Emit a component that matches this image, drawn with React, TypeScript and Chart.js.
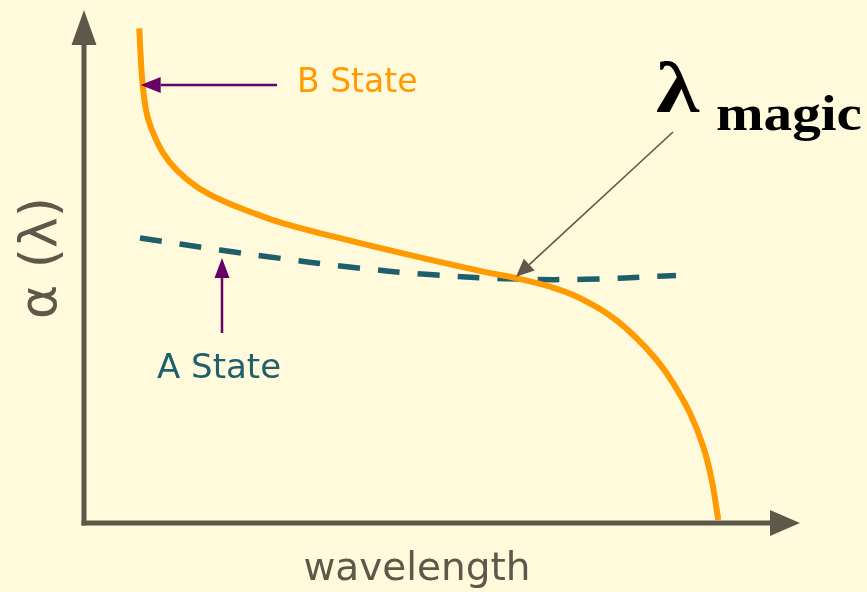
import { useEffect, useRef } from "react";
import { Chart, registerables } from "chart.js";
Chart.register(...registerables);

// Curve data (arbitrary units: wavelength 0–100, polarizability 0–100)
const bStateX = [7.72, 7.92, 8.2, 8.76, 9.68, 11.08, 12.95, 15.74, 18.99, 23.65, 27.83, 37.15, 46.47, 55.77, 60.43, 65.08, 68.34, 73.0, 76.72, 79.99, 82.3, 84.64, 86.49, 87.67, 88.59];
const bStateY = [96.43, 90.9, 85.38, 79.86, 75.96, 72.07, 68.81, 65.56, 63.06, 60.43, 58.42, 55.03, 51.91, 48.99, 47.7, 46.06, 44.44, 40.88, 36.65, 31.77, 27.23, 21.38, 14.87, 8.38, 0.58];
const aStateX = [7.82, 18.99, 25.7, 36.73, 47.77, 58.94, 69.97, 81.15, 82.68];
const aStateY = [55.56, 53.22, 51.91, 49.96, 48.48, 47.62, 47.5, 48.15, 48.25];
const magicX = 60.34;
const magicY = 47.8;

const labelB = "B State";
const labelA = "A State";
const labelLambda = "λ";
const labelMagic = "magic";
const xTitle = "wavelength";
const yTitle = "α (λ)";

const BG = "#FFFADC";
const AXIS = "#5E584A";
const ORANGE = "#FF9A00";
const TEAL = "#1F5F6B";
const PURPLE = "#660066";

function arrow(ctx: CanvasRenderingContext2D, x1: number, y1: number, x2: number, y2: number, color: string, lw: number, headLen: number, headHalf: number) {
  const ang = Math.atan2(y2 - y1, x2 - x1);
  const bx = x2 - Math.cos(ang) * headLen;
  const by = y2 - Math.sin(ang) * headLen;
  ctx.save();
  ctx.strokeStyle = color;
  ctx.fillStyle = color;
  ctx.lineWidth = lw;
  ctx.setLineDash([]);
  ctx.beginPath();
  ctx.moveTo(x1, y1);
  ctx.lineTo(bx, by);
  ctx.stroke();
  ctx.beginPath();
  ctx.moveTo(x2, y2);
  ctx.lineTo(bx + Math.cos(ang + Math.PI / 2) * headHalf, by + Math.sin(ang + Math.PI / 2) * headHalf);
  ctx.lineTo(bx - Math.cos(ang + Math.PI / 2) * headHalf, by - Math.sin(ang + Math.PI / 2) * headHalf);
  ctx.closePath();
  ctx.fill();
  ctx.restore();
}

const decorPlugin = {
  id: "decor",
  beforeDraw(chart: any) {
    const ctx = chart.ctx as CanvasRenderingContext2D;
    ctx.save();
    ctx.fillStyle = BG;
    ctx.fillRect(0, 0, chart.width, chart.height);
    ctx.restore();
  },
  beforeDatasetsDraw(chart: any) {
    const ctx = chart.ctx as CanvasRenderingContext2D;
    const { left, right, top, bottom } = chart.chartArea;
    // axes with arrows
    arrow(ctx, left, bottom + 2.5, left, top, AXIS, 5, 35, 12.5);
    arrow(ctx, left - 2.5, bottom, right, bottom, AXIS, 5, 30, 13);
    ctx.save();
    ctx.fillStyle = AXIS;
    ctx.font = "39px 'DejaVu Sans'";
    ctx.textAlign = "center";
    ctx.textBaseline = "alphabetic";
    ctx.fillText(xTitle, 417, 580);
    ctx.translate(42, 258);
    ctx.rotate(-Math.PI / 2);
    ctx.font = "52px 'DejaVu Sans'";
    ctx.textBaseline = "middle";
    ctx.fillText(yTitle, 0, 0);
    ctx.restore();
  },
  afterDatasetsDraw(chart: any) {
    const ctx = chart.ctx as CanvasRenderingContext2D;
    const xs = chart.scales.x;
    const ys = chart.scales.y;
    // B State annotation
    const bx = xs.getPixelForValue(bStateX[2]);
    const by = ys.getPixelForValue(bStateY[2]);
    arrow(ctx, 277, by, bx - 2, by, PURPLE, 2.5, 20, 8);
    // A State annotation
    arrow(ctx, 222, 333, 222, 258, PURPLE, 2.5, 20, 7.5);
    // lambda magic annotation
    const mx = xs.getPixelForValue(magicX);
    const my = ys.getPixelForValue(magicY);
    arrow(ctx, 673, 132, mx, my - 1, AXIS, 1.6, 18, 8);
    ctx.save();
    ctx.textBaseline = "middle";
    ctx.textAlign = "left";
    ctx.font = "33px 'DejaVu Sans'";
    ctx.fillStyle = ORANGE;
    ctx.fillText(labelB, 297, 83);
    ctx.fillStyle = TEAL;
    ctx.font = "34px 'DejaVu Sans'";
    ctx.fillText(labelA, 157, 369);
    ctx.fillStyle = "#000000";
    ctx.textBaseline = "alphabetic";
    ctx.save();
    ctx.translate(656, 112);
    ctx.scale(1.22, 1);
    ctx.font = "bold 72px 'Liberation Serif'";
    ctx.fillText(labelLambda, 0, 0);
    ctx.restore();
    ctx.save();
    ctx.translate(716, 130);
    ctx.scale(1.12, 1);
    ctx.font = "bold 51px 'Liberation Serif'";
    ctx.fillText(labelMagic, 0, 0);
    ctx.restore();
    ctx.restore();
  },
};

export default function App() {
  const ref = useRef<HTMLCanvasElement | null>(null);
  useEffect(() => {
    if (!ref.current) return;
    const chart = new Chart(ref.current, {
      type: "line",
      data: {
        datasets: [
          {
            label: labelB,
            data: bStateX.map((x, i) => ({ x, y: bStateY[i] })),
            borderColor: ORANGE,
            borderWidth: 6,
            pointRadius: 0,
            tension: 0.4,
            fill: false,
          },
          {
            label: labelA,
            data: aStateX.map((x, i) => ({ x, y: aStateY[i] })),
            borderColor: TEAL,
            borderWidth: 5.5,
            borderDash: [22, 18],
            borderCapStyle: "butt",
            pointRadius: 0,
            tension: 0.4,
            fill: false,
          },
        ],
      },
      options: {
        animation: false,
        responsive: false,
        maintainAspectRatio: false,
        layout: { padding: { left: 84, right: 67, top: 10, bottom: 69 } },
        plugins: { legend: { display: false }, tooltip: { enabled: false } },
        events: [],
        scales: {
          x: { type: "linear", min: 0, max: 100, display: false },
          y: { type: "linear", min: 0, max: 100, display: false },
        },
      },
      plugins: [decorPlugin],
    } as any);
    return () => chart.destroy();
  }, []);
  return (
    <div style={{ position: "fixed", left: 0, top: 0, width: 867, height: 592, background: BG }}>
      <canvas ref={ref} width={867} height={592} />
    </div>
  );
}
